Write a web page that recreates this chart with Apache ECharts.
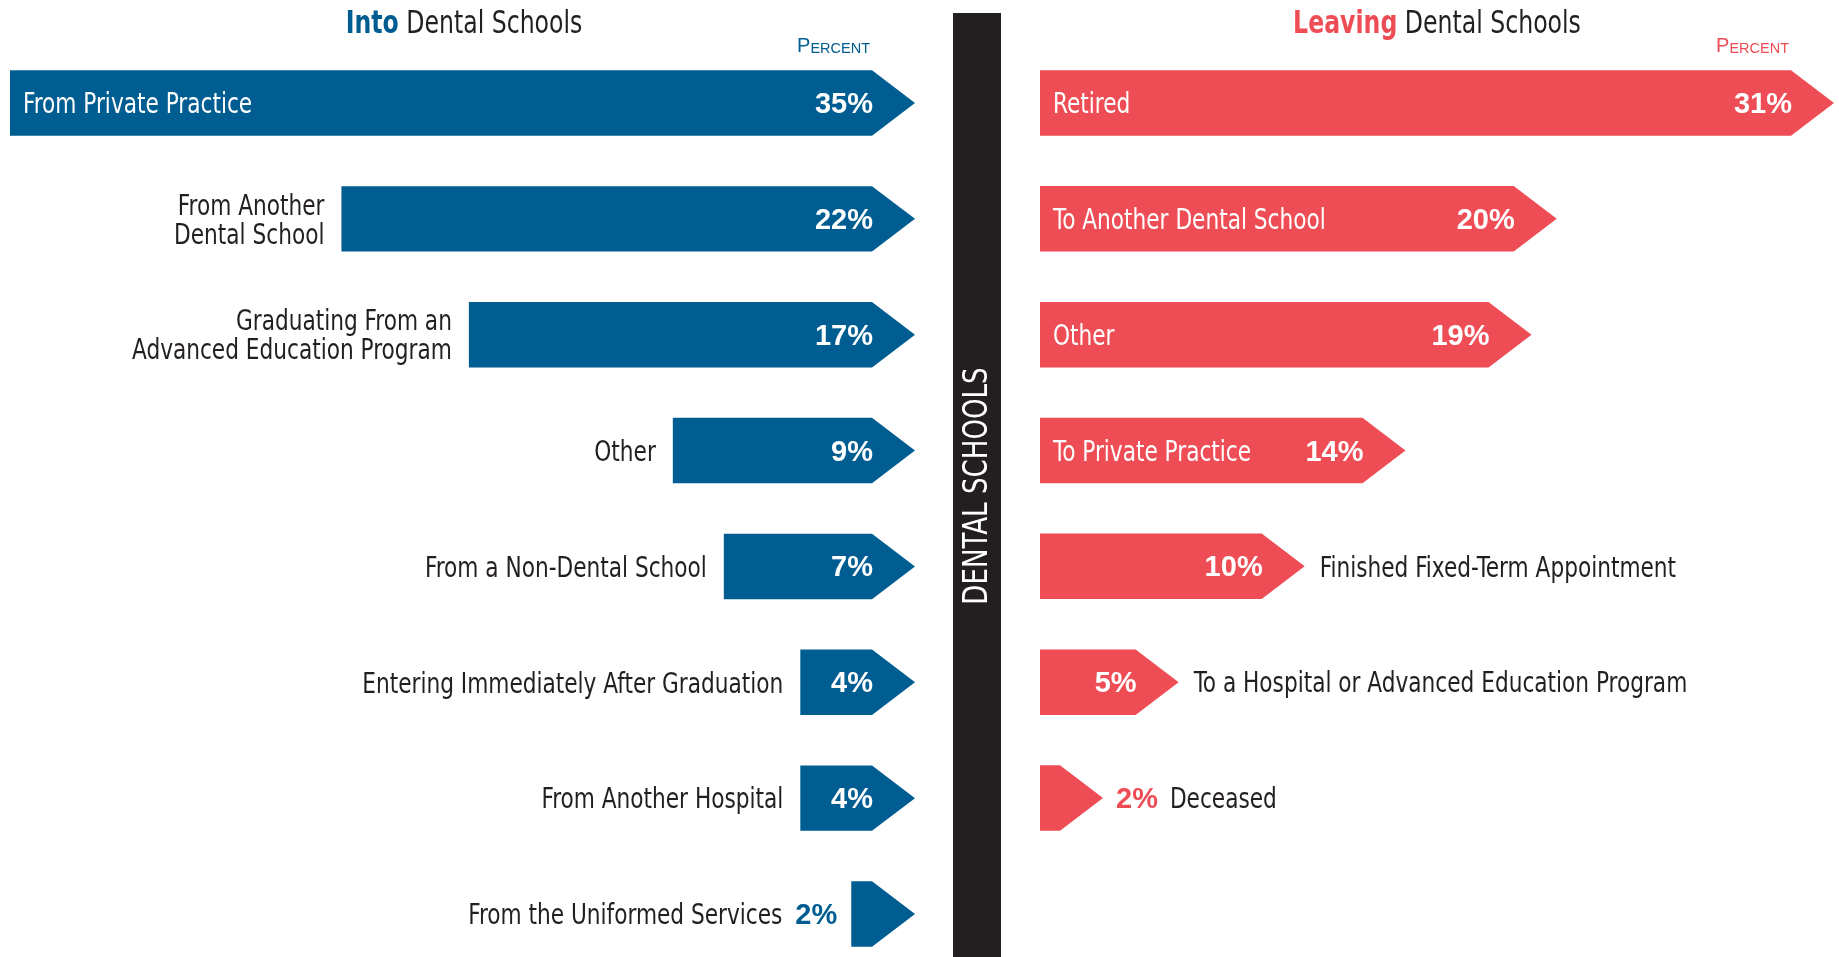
<!DOCTYPE html>
<html>
<head>
<meta charset="utf-8">
<title>Into and Leaving Dental Schools</title>
<script src="https://cdn.jsdelivr.net/npm/echarts@6/dist/echarts.min.js"></script>
<style>
html, body { margin: 0; padding: 0; background: #fff; }
#chart { width: 1839px; height: 957px; }
</style>
</head>
<body>
<div id="chart"></div>
<script>
// into dental schools, percent
var inCategories = [
    'From Private Practice',
    'From Another\nDental School',
    'Graduating From an\nAdvanced Education Program',
    'Other',
    'From a Non-Dental School',
    'Entering Immediately After Graduation',
    'From Another Hospital',
    'From the Uniformed Services'
];
var inValues = [35, 22, 17, 9, 7, 4, 4, 2];

// leaving dental schools, percent
var outCategories = [
    'Retired',
    'To Another Dental School',
    'Other',
    'To Private Practice',
    'Finished Fixed-Term Appointment',
    'To a Hospital or Advanced Education Program',
    'Deceased'
];
var outValues = [31, 20, 19, 14, 10, 5, 2];

var BLUE = '#005d91';
var RED = '#ef4d56';
var INK = '#231f20';
var NARROW = '"DejaVu Sans Condensed", "DejaVu Sans", sans-serif';
var WIDE = '"Liberation Sans", Arial, sans-serif';
var SQUEEZE = 0.86;   // the original uses a condensed face
var TIP = 43;

var measureCtx = document.createElement('canvas').getContext('2d');
function textWidth(text, font) {
    measureCtx.font = font;
    return measureCtx.measureText(text).width;
}

function makeRender(side, cats, color) {
    return function (params, api) {
        var i = params.dataIndex;
        var v = api.value(0);
        var cs = params.coordSys;
        var p = api.coord([v, i]);
        var cy = p[1];
        var h = api.size([0, 1])[1] * 0.565;
        var x0, x1;
        if (side === 'left') {
            x0 = p[0];
            x1 = cs.x + cs.width;
        } else {
            x0 = cs.x;
            x1 = p[0];
        }
        var bodyEnd = x1 - TIP;
        var children = [{
            type: 'polygon',
            shape: {
                points: [
                    [x0, cy - h / 2], [bodyEnd, cy - h / 2], [x1, cy],
                    [bodyEnd, cy + h / 2], [x0, cy + h / 2]
                ]
            },
            style: { fill: color }
        }];

        var catInside = side === 'left' ? v >= 30 : v >= 14;
        var valInside = side === 'left' ? v >= 4 : v >= 5;
        var label = v + '%';

        function catText(x, align, fill) {
            return {
                type: 'text', x: x, y: cy + 3, scaleX: SQUEEZE,
                style: {
                    text: cats[i], fill: fill, fontFamily: NARROW, fontSize: 28,
                    align: align, verticalAlign: 'middle', lineHeight: 29
                }
            };
        }
        function valText(x, align, fill) {
            return {
                type: 'text', x: x, y: cy + 2,
                style: {
                    text: label, fill: fill, fontFamily: WIDE, fontSize: 29, fontWeight: 'bold',
                    align: align, verticalAlign: 'middle'
                }
            };
        }

        if (valInside) {
            children.push(valText(bodyEnd + 1, 'right', '#fff'));
            if (catInside) {
                children.push(catText(x0 + 13, 'left', '#fff'));
            } else if (side === 'left') {
                children.push(catText(x0 - 17, 'right', INK));
            } else {
                children.push(catText(x1 + 15, 'left', INK));
            }
        } else {
            var vw = textWidth(label, 'bold 29px ' + WIDE);
            if (side === 'left') {
                children.push(valText(x0 - 14, 'right', color));
                children.push(catText(x0 - 14 - vw - 13, 'right', INK));
            } else {
                children.push(valText(x1 + 13, 'left', color));
                children.push(catText(x1 + 13 + vw + 12, 'left', INK));
            }
        }

        if (i === 0) {
            children.push({
                type: 'text',
                x: bodyEnd - 2,
                y: cy - h / 2 - 25,
                style: {
                    text: '{p|P}{q|ERCENT}',
                    align: 'right',
                    verticalAlign: 'middle',
                    rich: {
                        p: { fontFamily: WIDE, fontSize: 20, fill: color, verticalAlign: 'bottom', lineHeight: 22 },
                        q: { fontFamily: WIDE, fontSize: 14.5, fill: color, verticalAlign: 'bottom', lineHeight: 22 }
                    }
                }
            });
        }
        return { type: 'group', children: children };
    };
}

function heading(x, strong, color) {
    return {
        type: 'text',
        x: x,
        y: 25,
        scaleX: 0.82,
        style: {
            text: '{a|' + strong + '}{b| Dental Schools}',
            align: 'center',
            verticalAlign: 'middle',
            rich: {
                a: { fontFamily: NARROW, fontSize: 32, fontWeight: 'bold', fill: color },
                b: { fontFamily: NARROW, fontSize: 32, fontWeight: 'normal', fill: INK }
            }
        }
    };
}

var chart = echarts.init(document.getElementById('chart'));
chart.setOption({
    animation: false,
    backgroundColor: '#fff',
    graphic: [
        heading(464, 'Into', BLUE),
        heading(1437, 'Leaving', RED),
        {
            type: 'rect',
            shape: { x: 953, y: 13, width: 48, height: 944 },
            style: { fill: INK }
        }, {
            type: 'text',
            x: 978,
            y: 486,
            rotation: Math.PI / 2,
            scaleX: 0.88,
            style: {
                text: 'DENTAL SCHOOLS',
                fill: '#fff',
                fontFamily: NARROW,
                fontSize: 33,
                align: 'center',
                verticalAlign: 'middle'
            }
        }
    ],
    grid: [
        { left: 10, right: 924, top: 103, bottom: 43 },
        { left: 1040, right: 5, top: 103, bottom: 159 }
    ],
    xAxis: [
        { gridIndex: 0, type: 'value', min: -0.5, max: 35, inverse: true, show: false },
        { gridIndex: 1, type: 'value', min: -0.5, max: 31, show: false }
    ],
    yAxis: [
        { gridIndex: 0, type: 'category', data: inCategories, inverse: true, boundaryGap: false, show: false },
        { gridIndex: 1, type: 'category', data: outCategories, inverse: true, boundaryGap: false, show: false }
    ],
    series: [{
        type: 'custom',
        xAxisIndex: 0,
        yAxisIndex: 0,
        renderItem: makeRender('left', inCategories, BLUE),
        encode: { x: 0, y: 1 },
        data: inValues.map(function (v, i) { return [v, i]; })
    }, {
        type: 'custom',
        xAxisIndex: 1,
        yAxisIndex: 1,
        renderItem: makeRender('right', outCategories, RED),
        encode: { x: 0, y: 1 },
        data: outValues.map(function (v, i) { return [v, i]; })
    }]
});
</script>
</body>
</html>
